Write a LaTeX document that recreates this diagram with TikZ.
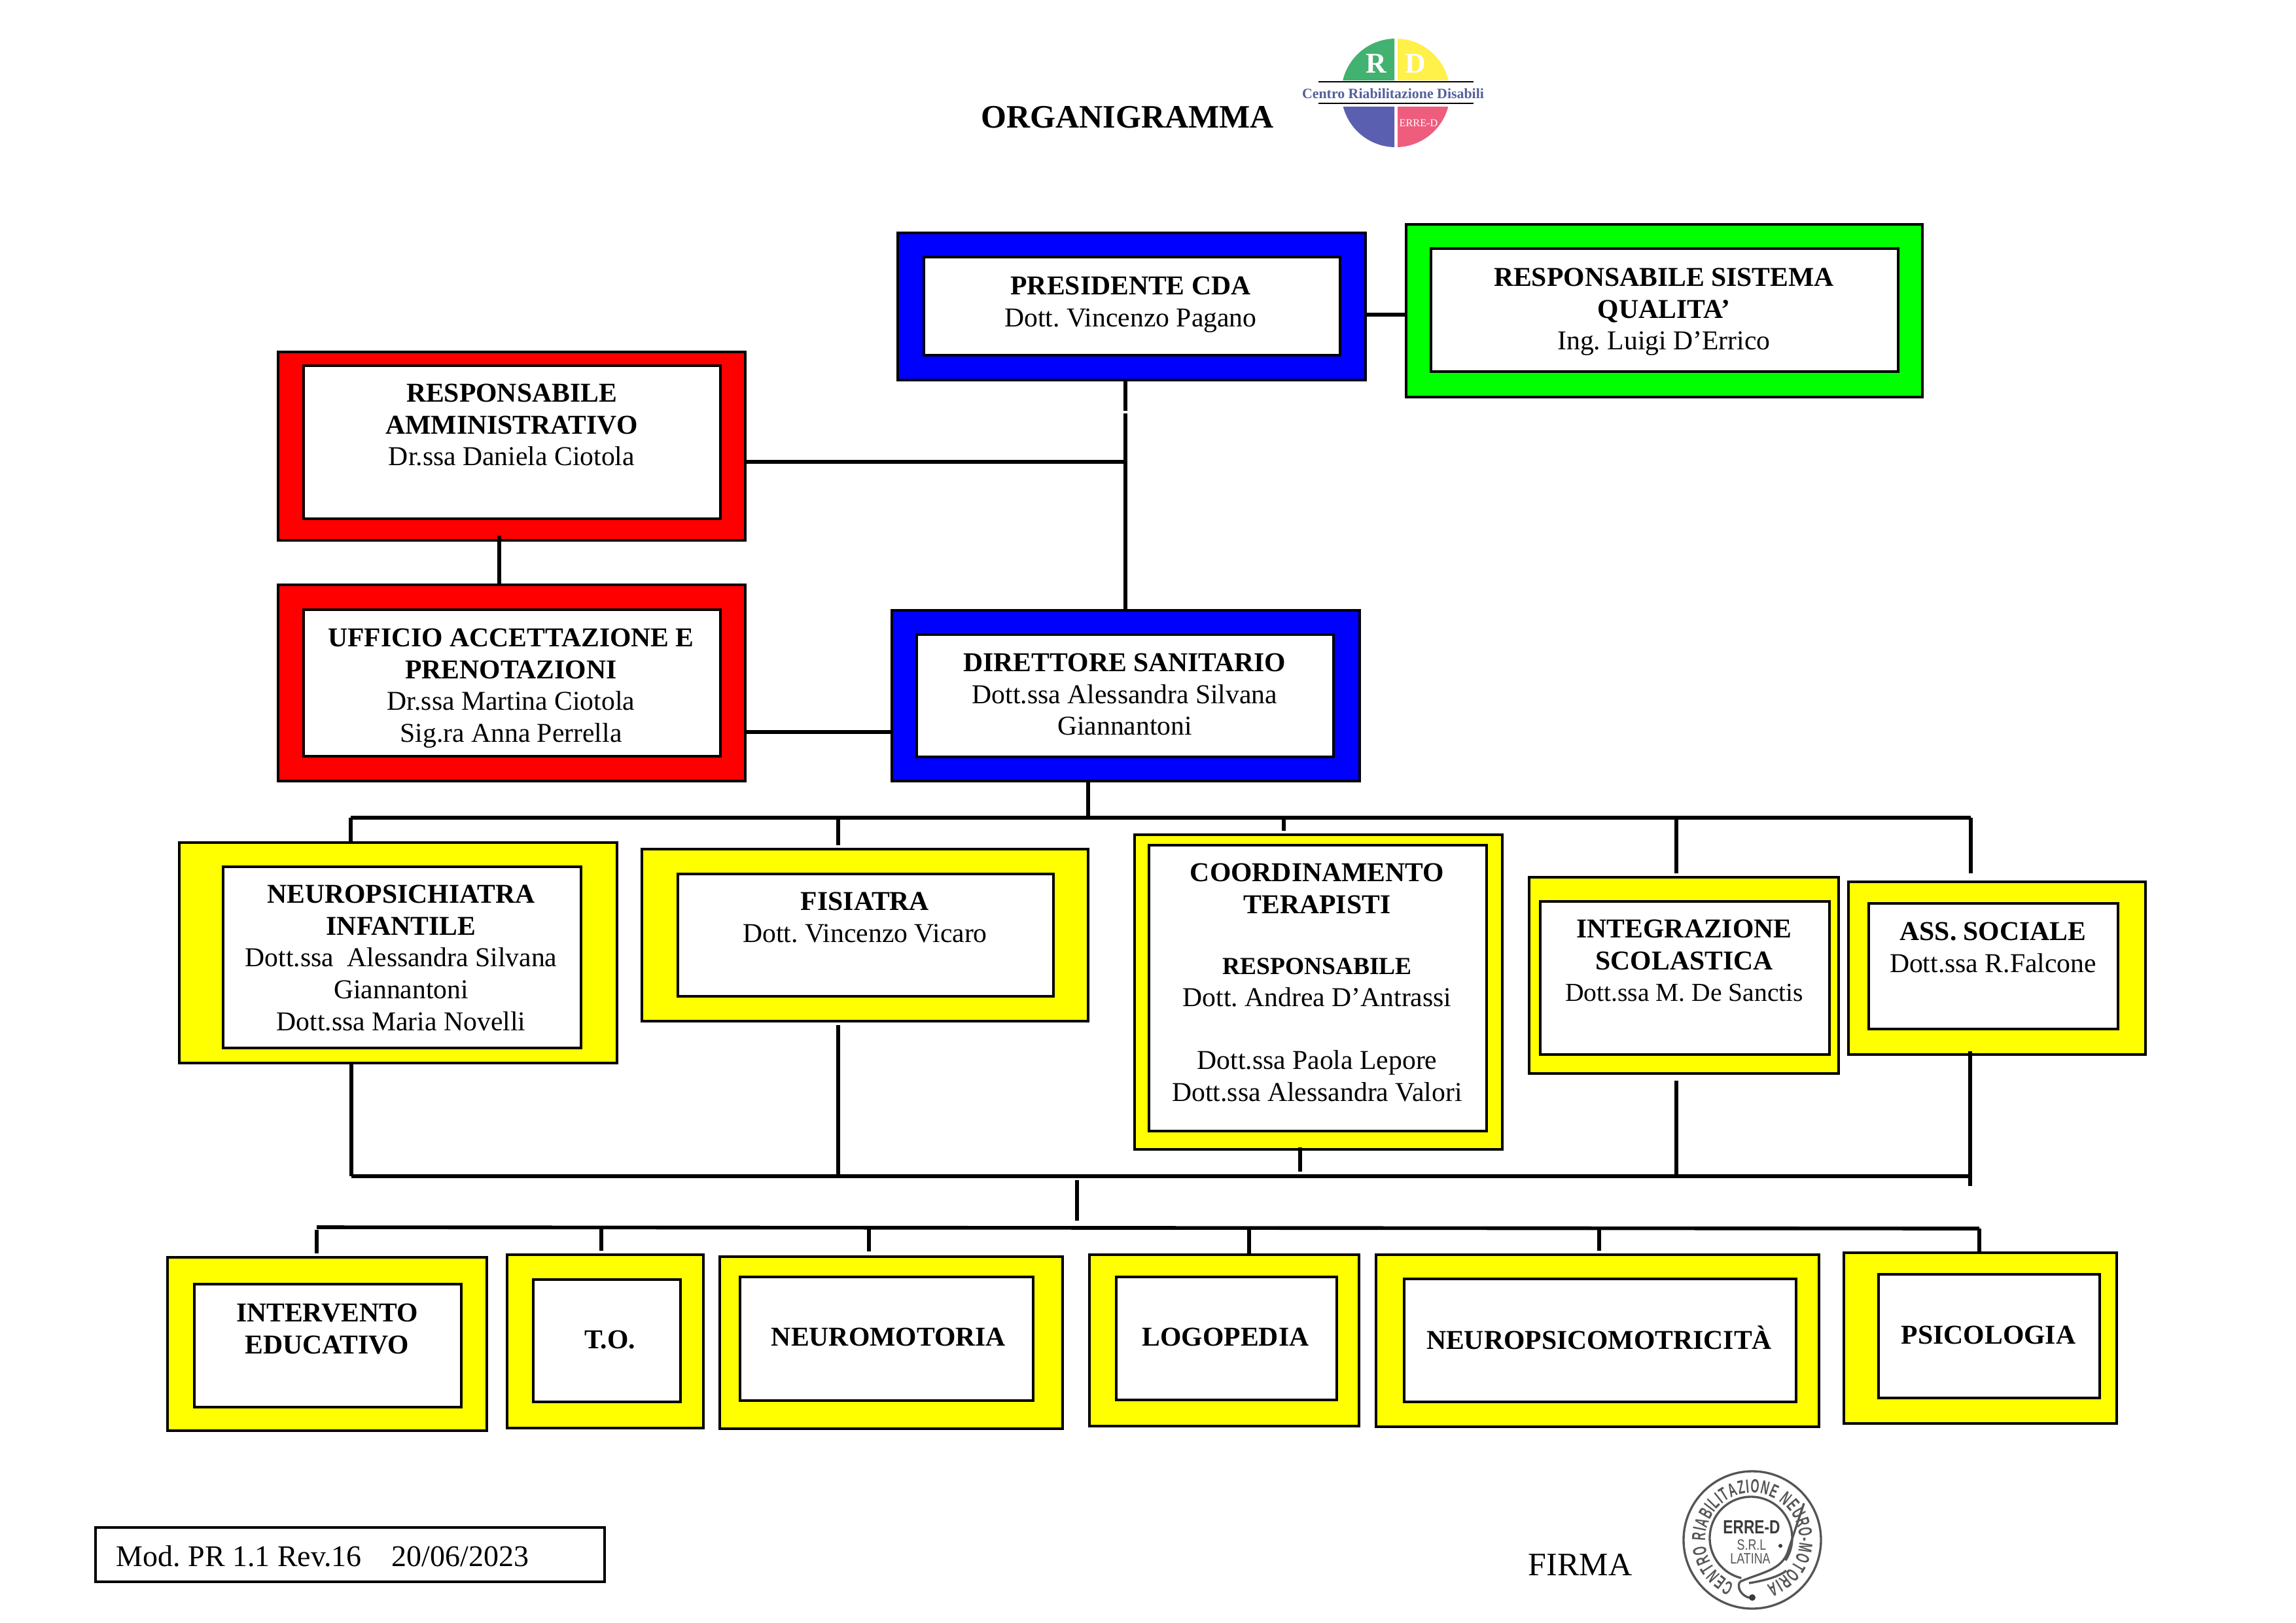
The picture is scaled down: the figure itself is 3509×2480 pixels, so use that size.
\documentclass[tikz,border=0pt]{standalone}
\usepackage{fontspec}
\setmainfont{Liberation Serif}
\newfontfamily\stampfont[FakeStretch=0.58]{Liberation Sans}
\newfontfamily\stampnamefont[FakeStretch=0.78]{Liberation Sans}
\usetikzlibrary{fit,decorations.text}
\definecolor{framered}{RGB}{255,0,0}
\definecolor{frameblue}{RGB}{0,0,255}
\definecolor{framegreen}{RGB}{0,255,0}
\definecolor{frameyellow}{RGB}{255,255,0}
\definecolor{logogreen}{RGB}{66,178,112}
\definecolor{logoyellow}{RGB}{255,240,74}
\definecolor{logoblue}{RGB}{90,95,176}
\definecolor{logopink}{RGB}{238,92,126}
\definecolor{logotextblue}{RGB}{84,96,155}
\definecolor{stampgray}{RGB}{85,85,85}
\tikzset{
  outerbox/.style={draw=black,line width=0.85bp,inner sep=0pt,outer sep=0pt},
  innerbox/.style={draw=black,fill=white,line width=0.85bp,inner sep=0pt,outer sep=0pt},
  boxtext/.style={anchor=north,inner sep=0pt,align=center,font=\fontsize{10bp}{11.7bp}\selectfont},
  link/.style={draw=black,line width=1.35bp},
  stampline/.style={draw=stampgray,line width=0.8bp}
}
\frenchspacing
\begin{document}
\begin{tikzpicture}[x=0.24bp,y=-0.24bp]
  \useasboundingbox (0,0) rectangle (3509,2480);

  % Title
  \node[anchor=base west,inner sep=0pt,font=\fontsize{12bp}{14bp}\selectfont\bfseries] (titolo) at (1499,195) {ORGANIGRAMMA};

  % Logo
  \begin{scope}
    \clip (2049,55) rectangle (2131,122);
    \fill[logogreen] (2133,142) circle (83);
  \end{scope}
  \begin{scope}
    \clip (2136,55) rectangle (2218,122);
    \fill[logoyellow] (2133,142) circle (83);
  \end{scope}
  \begin{scope}
    \clip (2049,163) rectangle (2131,229);
    \fill[logoblue] (2133,142) circle (83);
  \end{scope}
  \begin{scope}
    \clip (2136,163) rectangle (2218,229);
    \fill[logopink] (2133,142) circle (83);
  \end{scope}
  \draw[line width=0.3bp] (2015,125) -- (2252,125);
  \draw[line width=0.3bp] (2015,158) -- (2252,158);
  \node[text=white,inner sep=0pt,font=\fontsize{10.5bp}{12bp}\selectfont\bfseries] (logoR) at (2103,97) {R};
  \node[text=white,inner sep=0pt,font=\fontsize{10.5bp}{12bp}\selectfont\bfseries] (logoD) at (2163,97) {D};
  \node[text=logotextblue,inner sep=0pt,font=\fontsize{5.25bp}{6bp}\selectfont\bfseries] (logotesto) at (2129,143) {Centro Riabilitazione Disabili};
  \node[text=white,inner sep=0pt,font=\fontsize{3.9bp}{5bp}\selectfont] (logoerre) at (2168,188) {ERRE-D};

  % Presidente
  \node[outerbox,fill=frameblue,fit={(1372,356)(2087,581)}] (presidente) {};
  \node[innerbox,fit={(1412,393)(2048,543)}] (presidentein) {};
  \node[boxtext] (presidentetxt) at (1728,422) {\textbf{PRESIDENTE CDA}\\Dott. Vincenzo Pagano};

  % Responsabile qualita
  \node[outerbox,fill=framegreen,fit={(2149,343)(2938,607)}] (qualita) {};
  \node[innerbox,fit={(2187,380)(2901,568)}] (qualitain) {};
  \node[boxtext] (qualitatxt) at (2543,409) {\textbf{RESPONSABILE SISTEMA}\\\textbf{QUALITA’}\\Ing. Luigi D’Errico};

  % Responsabile amministrativo
  \node[outerbox,fill=framered,fit={(425,538)(1139,826)}] (amministrativo) {};
  \node[innerbox,fit={(464,559)(1101,793)}] (amministrativoin) {};
  \node[boxtext] (amministrativotxt) at (782,586) {\textbf{RESPONSABILE}\\\textbf{AMMINISTRATIVO}\\Dr.ssa Daniela Ciotola};

  % Ufficio accettazione
  \node[outerbox,fill=framered,fit={(425,894)(1139,1194)}] (ufficio) {};
  \node[innerbox,fit={(464,932)(1101,1156)}] (ufficioin) {};
  \node[boxtext] (ufficiotxt) at (781,960) {\textbf{UFFICIO ACCETTAZIONE E}\\\textbf{PRENOTAZIONI}\\Dr.ssa Martina Ciotola\\Sig.ra Anna Perrella};

  % Direttore sanitario
  \node[outerbox,fill=frameblue,fit={(1363,933)(2078,1194)}] (direttore) {};
  \node[innerbox,fit={(1401,970)(2038,1157)}] (direttorein) {};
  \node[boxtext] (direttoretxt) at (1719,998) {\textbf{DIRETTORE SANITARIO}\\Dott.ssa Alessandra Silvana\\Giannantoni};

  % Neuropsichiatra
  \node[outerbox,fill=frameyellow,fit={(274,1288)(943,1625)}] (neuropsi) {};
  \node[innerbox,fit={(341,1325)(888,1602)}] (neuropsiin) {};
  \node[boxtext] (neuropsitxt) at (613,1352) {\textbf{NEUROPSICHIATRA}\\\textbf{INFANTILE}\\Dott.ssa\ \ Alessandra Silvana\\Giannantoni\\Dott.ssa Maria Novelli};

  % Fisiatra
  \node[outerbox,fill=frameyellow,fit={(981,1298)(1663,1561)}] (fisiatra) {};
  \node[innerbox,fit={(1036,1336)(1610,1523)}] (fisiatrain) {};
  \node[boxtext] (fisiatratxt) at (1322,1363) {\textbf{FISIATRA}\\Dott. Vincenzo Vicaro};

  % Coordinamento terapisti
  \node[outerbox,fill=frameyellow,fit={(1734,1276)(2296,1757)}] (coordinamento) {};
  \node[innerbox,fit={(1756,1292)(2272,1729)}] (coordinamentoin) {};
  \node[boxtext] (coordinamentotxt) at (2013,1319) {\textbf{COORDINAMENTO}\\\textbf{TERAPISTI}\\[10.8bp]{\fontsize{9bp}{11bp}\selectfont\textbf{RESPONSABILE}}\\Dott. Andrea D’Antrassi\\[11.4bp]Dott.ssa Paola Lepore\\Dott.ssa Alessandra Valori};

  % Integrazione scolastica
  \node[outerbox,fill=frameyellow,fit={(2337,1341)(2810,1641)}] (integrazione) {};
  \node[innerbox,fit={(2354,1378)(2796,1612)}] (integrazionein) {};
  \node[boxtext] (integrazionetxt) at (2574,1405) {\textbf{INTEGRAZIONE}\\\textbf{SCOLASTICA}\\{\fontsize{9.5bp}{11bp}\selectfont Dott.ssa M. De Sanctis}};

  % Assistente sociale
  \node[outerbox,fill=frameyellow,fit={(2825,1348)(3279,1612)}] (sociale) {};
  \node[innerbox,fit={(2856,1381)(3237,1573)}] (socialein) {};
  \node[boxtext] (socialetxt) at (3046,1409) {\textbf{ASS. SOCIALE}\\Dott.ssa R.Falcone};

  % Intervento educativo
  \node[outerbox,fill=frameyellow,fit={(256,1922)(744,2187)}] (intervento) {};
  \node[innerbox,fit={(297,1963)(705,2151)}] (interventoin) {};
  \node[boxtext] (interventotxt) at (500,1992) {\textbf{INTERVENTO}\\\textbf{EDUCATIVO}};

  % T.O.
  \node[outerbox,fill=frameyellow,fit={(775,1918)(1075,2183)}] (terapiaocc) {};
  \node[innerbox,fit={(815,1956)(1040,2143)}] (terapiaoccin) {};
  \node[boxtext] (terapiaocctxt) at (932,2033) {\textbf{T.O.}};

  % Neuromotoria
  \node[outerbox,fill=frameyellow,fit={(1100,1921)(1624,2184)}] (neuromotoria) {};
  \node[innerbox,fit={(1131,1952)(1579,2141)}] (neuromotoriain) {};
  \node[boxtext] (neuromotoriatxt) at (1358,2029) {\textbf{NEUROMOTORIA}};

  % Logopedia
  \node[outerbox,fill=frameyellow,fit={(1665,1918)(2077,2180)}] (logopedia) {};
  \node[innerbox,fit={(1706,1952)(2043,2140)}] (logopediain) {};
  \node[boxtext] (logopediatxt) at (1873,2029) {\textbf{LOGOPEDIA}};

  % Neuropsicomotricita
  \node[outerbox,fill=frameyellow,fit={(2103,1918)(2780,2181)}] (psicomotricita) {};
  \node[innerbox,fit={(2146,1955)(2745,2143)}] (psicomotricitain) {};
  \node[boxtext] (psicomotricitatxt) at (2444,2060) {\textbf{\smash{NEUROPSICOMOTRICITÀ}}};

  % Psicologia
  \node[outerbox,fill=frameyellow,fit={(2818,1915)(3235,2176)}] (psicologia) {};
  \node[innerbox,fit={(2871,1948)(3209,2137)}] (psicologiain) {};
  \node[boxtext] (psicologiatxt) at (3039,2026) {\textbf{PSICOLOGIA}};

  % Upper links
  \coordinate (asse) at (1720,628);
  \coordinate (assebis) at (1720,632);
  \draw[link] (presidente.east |- 0,481) -- (qualita.west |- 0,481);
  \draw[link] (asse |- presidente.south) -- (asse);
  \draw[link] (assebis) -- (assebis |- direttore.north);
  \draw[link] (amministrativo.east |- 0,706) -- (asse |- 0,706);
  \coordinate (ammufficio) at (763,819);
  \draw[link] (ammufficio) -- (ammufficio |- ufficio.north);
  \draw[link] (ufficio.east |- 0,1119) -- (direttore.west |- 0,1119);

  % First bus
  \coordinate (busdir) at (1663,1250);
  \coordinate (busneuro) at (536,1250);
  \coordinate (busfis) at (1281,1250);
  \coordinate (buscoord) at (1962,1250);
  \coordinate (busint) at (2562,1250);
  \coordinate (bussoc) at (3012,1250);
  \draw[link] (busneuro) -- (bussoc);
  \draw[link] (busdir |- direttore.south) -- (busdir);
  \draw[link] (busneuro) -- (busneuro |- neuropsi.north);
  \draw[link,shorten >=1.4bp] (busfis) -- (busfis |- fisiatra.north);
  \draw[link,shorten >=1.4bp] (buscoord) -- (buscoord |- coordinamento.north);
  \draw[link,shorten >=1.4bp] (busint) -- (busint |- integrazione.north);
  \draw[link,shorten >=3.1bp] (bussoc) -- (bussoc |- sociale.north);

  % Second bus
  \coordinate (lowneuro) at (537,1798);
  \coordinate (lowfis) at (1281,1798);
  \coordinate (lowcoord) at (1987,1791);
  \coordinate (lowint) at (2562,1798);
  \coordinate (lowsoc) at (3011,1798);
  \draw[link] (lowneuro) -- (lowsoc);
  \draw[link] (lowneuro |- neuropsi.south) -- (lowneuro);
  \draw[link,shorten <=1.4bp] (lowfis |- fisiatra.south) -- (lowfis);
  \draw[link] (lowcoord |- 0,1754) -- (lowcoord);
  \draw[link,shorten <=2.6bp] (lowint |- integrazione.south) -- (lowint);
  \draw[link] (lowsoc |- 0,1607) -- (lowsoc |- 0,1813);
  \coordinate (midtop) at (1646,1804);
  \coordinate (midbot) at (1646,1866);
  \draw[link] (midtop) -- (midbot);

  % Third bus
  \coordinate (baseinter) at (484,1876);
  \coordinate (baseto) at (919,1876);
  \coordinate (basemot) at (1328,1876);
  \coordinate (baselog) at (1909,1877);
  \coordinate (basepsm) at (2444,1877);
  \coordinate (basepsi) at (3025,1878);
  \draw[link] (baseinter) -- (basepsi);
  \draw[link,shorten <=1bp,shorten >=1.4bp] (baseinter) -- (baseinter |- intervento.north);
  \draw[link,shorten >=1.4bp] (baseto) -- (baseto |- terapiaocc.north);
  \draw[link,shorten >=2bp] (basemot) -- (basemot |- neuromotoria.north);
  \draw[link] (baselog) -- (baselog |- logopedia.north);
  \draw[link,shorten >=1.4bp] (basepsm) -- (basepsm |- psicomotricita.north);
  \draw[link] (basepsi) -- (basepsi |- psicologia.north);

  % Modulo
  \node[draw=black,line width=0.8bp,inner sep=0pt,outer sep=0pt,fit={(146,2335)(924,2418)}] (modulo) {};
  \node[anchor=base west,inner sep=0pt,font=\fontsize{11.03bp}{13bp}\selectfont] (modulotxt) at (177,2394) {Mod. PR 1.1 Rev.16\ \ \ \ 20/06/2023};

  % Firma
  \node[anchor=base west,inner sep=0pt,font=\fontsize{12bp}{14bp}\selectfont] (firma) at (2335,2408) {FIRMA};

  % Timbro
  \draw[stampline] (2678,2354) circle (105);
  \draw[stampline] (2676,2351) ++(103.5:63) arc[start angle=103.5,end angle=393,radius=63];
  \path[decorate,decoration={text along path,text color=stampgray,
    text={|\stampfont\bfseries\fontsize{7bp}{8bp}\selectfont|CENTRO RIABILITAZIONE NEURO-MOTORIA},text align={fit to path}}]
    (2678,2354) ++(112:72) arc[start angle=112,end angle=432,radius=72];
  \node[text=stampgray!70!black,inner sep=0pt,font=\stampnamefont\bfseries\fontsize{7bp}{8bp}\selectfont] (timbroerre) at (2677,2334) {ERRE-D};
  \node[text=stampgray,inner sep=0pt,font=\stampnamefont\fontsize{5.5bp}{6bp}\selectfont] (timbrosrl) at (2677,2362) {S.R.L};
  \node[text=stampgray,inner sep=0pt,font=\stampnamefont\fontsize{5.5bp}{6bp}\selectfont] (timbrolatina) at (2675,2383) {LATINA};
  \draw[stampline] (2659,2418) .. controls (2690,2404) and (2724,2401) .. (2733,2370) -- (2757,2298);
  \draw[stampline] (2673,2420) .. controls (2704,2415) and (2721,2408) .. (2730,2401);
  \draw[stampline] (2659,2418) .. controls (2652,2432) and (2670,2445) .. (2678,2442);
  \fill[stampgray!70!black] (2678,2442) circle (5);
  \fill[stampgray!70!black] (2721,2363) circle (3);
\end{tikzpicture}
\end{document}
